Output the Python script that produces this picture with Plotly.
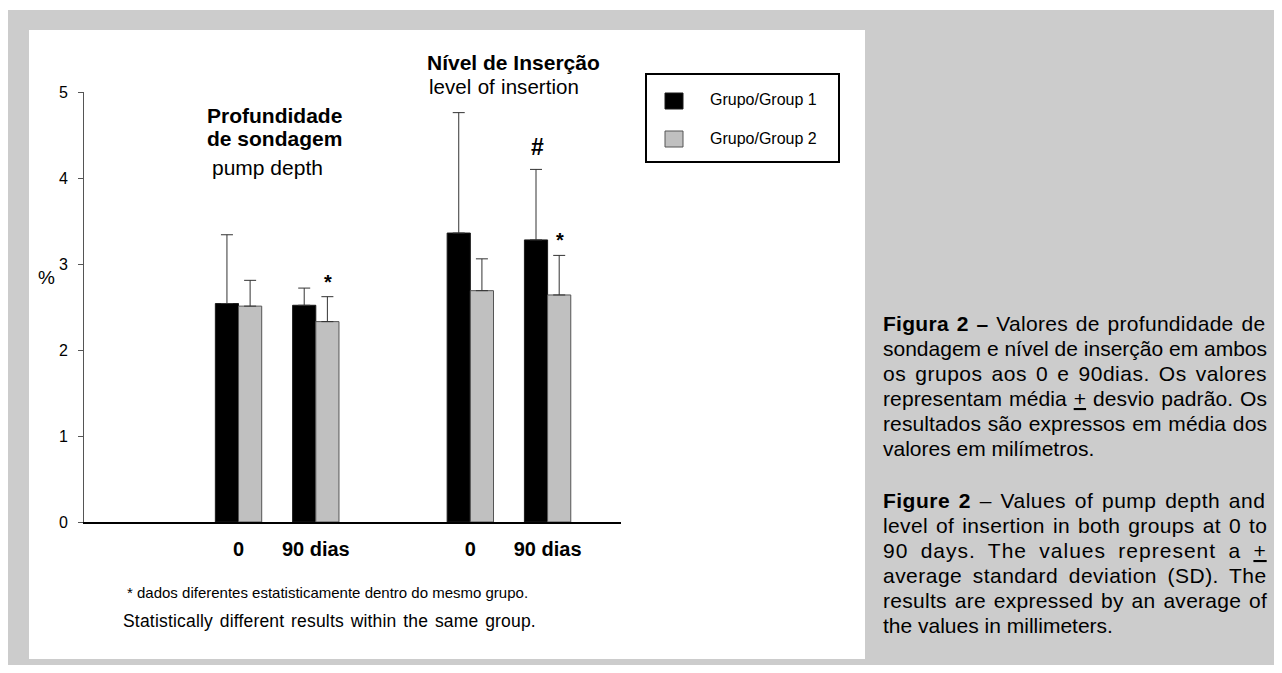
import re
import plotly.graph_objects as go

# ---------------- data ----------------
measures = ["Profundidade de sondagem", "Nível de Inserção"]
time_labels = ["0", "90 dias"]
series_names = ["Grupo/Group 1", "Grupo/Group 2"]
group1_mean = [2.54, 2.52, 3.36, 3.28]
group1_sd = [0.80, 0.20, 1.40, 0.82]
group2_mean = [2.51, 2.33, 2.69, 2.64]
group2_sd = [0.30, 0.29, 0.37, 0.46]
y_ticks = [0, 1, 2, 3, 4, 5]
# significance marks: (series index, bar index, symbol)
sig_marks = [(1, 1, "*"), (0, 3, "#"), (1, 3, "*")]

means = [group1_mean, group2_mean]
sds = [group1_sd, group2_sd]

# ---------------- style ----------------
colors = ["#000000", "#c0c0c0"]
outlines = ["#1a1a1a", "#555555"]
FONT = "Liberation Sans, Arial, Helvetica, sans-serif"
BARGAP = 0.4

# x positions: one block of time points per measure, an empty slot between blocks
x_pos, x_text = [], []
for m in range(len(measures)):
    for t, lab in enumerate(time_labels):
        x_pos.append(m * (len(time_labels) + 1) + t)
        x_text.append(lab)

# ---------------- geometry (page pixels -> paper) ----------------
W, H = 1266, 657
OFF = 8  # default body margin of the html page
L, R, T, B = 76, 653, 84, 143
PW = W - L - R
PH = H - T - B


def px(X):
    return (X - OFF - L) / PW


def py(Y):
    return 1 - (Y - OFF - T) / PH


# Arial / Liberation Sans advance widths (1/1000 em) for justification
REG = {}
for chars, wd in [("abdeghnopqu0123456789áãéó–", 556), ("cksvxyzç", 500), ("fijlt", 278),
                  ("ijl", 222), ("í .,/:", 278), ("mM", 833), ("r()-", 333), ("w", 722),
                  ("+", 584), ("FTZ", 611), ("ABEKPSVXY", 667), ("CDHNRUw", 722),
                  ("GOQ", 778), ("I", 278), ("L", 556), ("W", 944)]:
    for c in chars:
        REG[c] = wd
BOLD = dict(REG)
for chars, wd in [("bdghnopqu", 611), ("f", 333), ("ijl", 278), ("r", 389), ("c", 556)]:
    for c in chars:
        BOLD[c] = wd


def natural_width(markup, size):
    total = 0
    bold = False
    for part in re.split(r"(<[^>]+>)", markup):
        if part.startswith("<"):
            if part == "<b>":
                bold = True
            elif part == "</b>":
                bold = False
            continue
        tab = BOLD if bold else REG
        total += sum(tab.get(c, 556) for c in part)
    return total * size / 1000.0


def justify(markup, size, target):
    plain = re.sub(r"<[^>]+>", "", markup)
    extra = target - natural_width(markup, size)
    if extra <= 0:
        return markup
    n_sp = plain.count(" ")
    n_ch = len(plain)
    ls = 0.5 * extra / n_ch
    ws = (0.5 * extra / n_sp) if n_sp else 0
    return '<span style="letter-spacing:%.2fpx;word-spacing:%.2fpx">%s</span>' % (ls, ws, markup)


fig = go.Figure()
for i in range(len(series_names)):
    fig.add_trace(go.Bar(
        x=x_pos, y=means[i], name=series_names[i],
        marker=dict(color=colors[i], line=dict(color=outlines[i], width=1)),
        error_y=dict(type="data", symmetric=False, array=sds[i],
                     arrayminus=[0] * len(sds[i]), color="#333333",
                     thickness=1, width=6),
        showlegend=False,
    ))

annotations = []
half = (1 - BARGAP) / 2
offsets = [-half / 2, half / 2]
yshift = {"*": 15, "#": 22}
fsize = {"*": 20, "#": 23}
for s, b, sym in sig_marks:
    annotations.append(dict(
        x=x_pos[b] + offsets[s], y=means[s][b] + sds[s][b], xref="x", yref="y",
        text="<b>%s</b>" % sym, showarrow=False, yanchor="middle", yshift=yshift[sym],
        xshift=1, font=dict(family=FONT, size=fsize[sym], color="black")))


def label(text, X, Y, size, anchor="left", bold=False):
    annotations.append(dict(
        x=px(X), y=py(Y), xref="paper", yref="paper", text=text, showarrow=False,
        xanchor=anchor, yanchor="middle",
        font=dict(family=FONT, size=size, color="black",
                  weight="bold" if bold else "normal")))


# panel titles
label("Profundidade", 205, 115, 21, bold=True)
label("de sondagem", 205, 138, 21, bold=True)
label("pump depth", 210, 167, 21)
label("Nível de Inserção", 425, 62, 21, bold=True)
label(justify("level of insertion", 20.5, 150), 427, 87, 20.5)
label("%", 46, 277, 19, anchor="center")

# footnotes
label("* dados diferentes estatisticamente dentro do mesmo grupo.", 125, 592, 15)
label(justify("Statistically different results within the same group.", 17.5, 413),
      121, 621, 17.5)

# caption (justified lines; last line of each paragraph left as is)
caption = [
    ("<b>Figura 2 –</b> Valores de profundidade de", 323, True),
    ("sondagem e nível de inserção em ambos", 348, True),
    ("os grupos aos 0 e 90dias. Os valores", 373, True),
    ("representam média <u>+</u> desvio padrão. Os", 398, True),
    ("resultados são expressos em média dos", 423, True),
    ("valores em milímetros.", 448, False),
    ("<b>Figure 2</b> – Values of pump depth and", 500, True),
    ("level of insertion in both groups at 0 to", 525, True),
    ("90 days. The values represent a <u>+</u>", 550, True),
    ("average standard deviation (SD). The", 575, True),
    ("results are expressed by an average of", 600, True),
    ("the values in millimeters.", 625, False),
]
CAP = 21
for txt, yy, just in caption:
    label(justify(txt, CAP, 384) if just else txt, 881, yy, CAP)

# custom legend
for i, name in enumerate(series_names):
    label(name, 708, [100, 138][i], 16)

shapes = [
    dict(type="rect", xref="paper", yref="paper", x0=px(7), x1=px(1275), y0=py(10), y1=py(690),
         fillcolor="#cccccc", line=dict(width=0), layer="below"),
    dict(type="rect", xref="paper", yref="paper", x0=px(29), x1=px(865), y0=py(30), y1=py(659),
         fillcolor="white", line=dict(width=0), layer="below"),
    dict(type="rect", xref="paper", yref="paper", x0=px(646), x1=px(839), y0=py(74), y1=py(162),
         fillcolor="white", line=dict(color="black", width=2), layer="above"),
]
sq = [(93, 109), (131, 147)]
for i in range(len(series_names)):
    shapes.append(dict(type="rect", xref="paper", yref="paper", x0=px(665), x1=px(683),
                       y0=py(sq[i][0]), y1=py(sq[i][1]), fillcolor=colors[i],
                       line=dict(color=outlines[i], width=1), layer="above"))

fig.update_layout(
    width=W, height=H, autosize=False,
    margin=dict(l=L, r=R, t=T, b=B, pad=0),
    paper_bgcolor="white", plot_bgcolor="rgba(0,0,0,0)",
    barmode="group", bargap=BARGAP, bargroupgap=0,
    showlegend=False,
    font=dict(family=FONT, color="black"),
    annotations=annotations, shapes=shapes,
)
fig.update_xaxes(range=[-2, 4.95], tickvals=x_pos, ticktext=x_text, showline=True,
                 linecolor="black", linewidth=2, ticks="", showgrid=False, zeroline=False,
                 tickfont=dict(family=FONT, size=20, weight="bold", color="black"),
                 ticklabelstandoff=8)
fig.update_yaxes(range=[0, 5], tickvals=y_ticks, showline=True, linecolor="#555555",
                 linewidth=1, ticks="outside", ticklen=5, tickcolor="#555555",
                 showgrid=False, zeroline=False,
                 tickfont=dict(family=FONT, size=16, color="black"),
                 ticklabelstandoff=7)

fig.write_html("out.html")
